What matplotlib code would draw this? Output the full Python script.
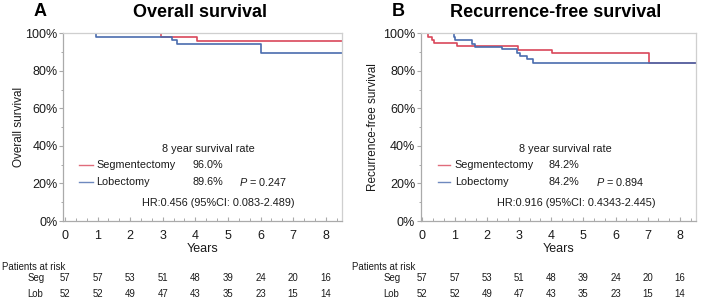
import matplotlib
matplotlib.use('Agg')
import matplotlib.pyplot as plt
import matplotlib.transforms as mtrans
from matplotlib.ticker import MultipleLocator, FuncFormatter

plt.rcParams['font.family'] = ['Liberation Sans', 'DejaVu Sans']
plt.rcParams['mathtext.fontset'] = 'custom'
plt.rcParams['mathtext.it'] = 'Liberation Sans:italic'
plt.rcParams['mathtext.rm'] = 'Liberation Sans'

# ---------------- data ----------------
followup_end = 8.5
os_seg_t = [0, 2.94, 4.05]
os_seg_s = [100, 98.2, 96.0]
os_lob_t = [0, 0.96, 3.27, 3.43, 6.02]
os_lob_s = [100, 98.1, 96.2, 94.2, 89.6]

rfs_seg_t = [0, 0.19, 0.29, 0.36, 1.09, 2.97, 4.03, 7.04]
rfs_seg_s = [100, 98.2, 96.5, 94.7, 93.0, 91.2, 89.4, 84.2]
rfs_lob_t = [0, 0.97, 1.03, 1.53, 1.64, 2.46, 2.94, 3.02, 3.25, 3.44]
rfs_lob_s = [100, 98.1, 96.2, 94.4, 92.8, 91.5, 89.6, 88.1, 86.4, 84.2]

risk_years = [0, 1, 2, 3, 4, 5, 6, 7, 8]
seg_risk = [57, 57, 53, 51, 48, 39, 24, 20, 16]
lob_risk = [52, 52, 49, 47, 43, 35, 23, 15, 14]

group_names = ['Segmentectomy', 'Lobectomy']
group_short = ['Seg', 'Lob']
os_rates = ['96.0%', '89.6%']
rfs_rates = ['84.2%', '84.2%']
os_p = '0.247'
rfs_p = '0.894'
os_hr = 'HR:0.456 (95%CI: 0.083-2.489)'
rfs_hr = 'HR:0.916 (95%CI: 0.4343-2.445)'

RED = '#d9475a'
BLUE = '#4a6cae'
W, H = 704, 300

fig = plt.figure(figsize=(W / 100, H / 100), dpi=100)


def px_axes(l, r, t, b):
    return fig.add_axes([l / W, 1 - b / H, (r - l) / W, (b - t) / H])


def style(ax, ylabel, ylabel_x):
    ax.set_xlim(-0.05, 8.5)
    ax.set_ylim(0, 100)
    ax.xaxis.set_major_locator(MultipleLocator(1))
    ax.xaxis.set_minor_locator(MultipleLocator(1 / 3))
    ax.yaxis.set_major_locator(MultipleLocator(20))
    ax.yaxis.set_minor_locator(MultipleLocator(10))
    ax.yaxis.set_major_formatter(FuncFormatter(lambda v, p: f'{int(v)}%'))
    for s in ['left', 'bottom']:
        ax.spines[s].set_color('#aaaaaa')
        ax.spines[s].set_linewidth(0.9)
    for s in ['top', 'right']:
        ax.spines[s].set_color('#cfcfcf')
        ax.spines[s].set_linewidth(0.9)
    ax.tick_params(axis='y', which='major', direction='out', length=3, width=0.8,
                   color='#aaaaaa', labelsize=9, pad=1, labelcolor='#1a1a1a')
    ax.tick_params(axis='y', which='minor', direction='out', length=1.5, width=0.7,
                   color='#aaaaaa')
    ax.tick_params(axis='x', which='major', direction='in', length=3, width=0.8,
                   color='#aaaaaa', labelsize=9, pad=6.5, labelcolor='#1a1a1a')
    ax.tick_params(axis='x', which='minor', direction='in', length=2, width=0.7,
                   color='#aaaaaa')
    ax.set_xlabel('Years', fontsize=9, labelpad=1, color='#1a1a1a')
    ax.set_ylabel(ylabel, fontsize=8.5, color='#1a1a1a')
    ax.yaxis.set_label_coords(ylabel_x, 0.5)


def km(ax, t, s, color):
    ax.step(list(t) + [followup_end], list(s) + [s[-1]], where='post',
            color=color, lw=1.2, zorder=2)


def annot(ax, rates, p, hr, hdr_x, line_x0, line_x1, name_x, rate_x, p_x, hr_x):
    kw = dict(fontsize=7.8, color='#1a1a1a', va='center')
    ax.text(hdr_x, 38.4, '8 year survival rate', ha='center', **kw)
    ys = [29.8, 20.9]
    for i, (c, y) in enumerate(zip([RED, BLUE], ys)):
        ax.plot([line_x0, line_x1], [y, y], color=c, lw=1.0, alpha=0.8)
        ax.text(name_x, y, group_names[i], ha='left', **kw)
        ax.text(rate_x, y, rates[i], ha='left', **kw)
    ax.text(p_x, ys[1], r'$\it{P}$ = ' + p, ha='left', **kw)
    ax.text(hr_x, 9.4, hr, ha='center', **kw)


def risk_table(ax, table_left_px, name_left_px):
    tr = mtrans.blended_transform_factory(ax.transData, fig.transFigure)
    kw = dict(fontsize=6.9, color='#1a1a1a', va='center')
    fig.text(table_left_px / W, 1 - 266.7 / H, 'Patients at risk', ha='left', **kw)
    for y_px, name, vals in [(278.3, group_short[0], seg_risk), (294.3, group_short[1], lob_risk)]:
        fig.text(name_left_px / W, 1 - y_px / H, name, ha='left', **kw)
        for x, v in zip(risk_years, vals):
            ax.text(x, 1 - y_px / H, str(v), ha='center', transform=tr, clip_on=False, **kw)


# ---------------- Panel A ----------------
axA = px_axes(63.3, 342, 33.3, 221)
style(axA, 'Overall survival', -0.137)
km(axA, os_seg_t, os_seg_s, RED)
km(axA, os_lob_t, os_lob_s, BLUE)
annot(axA, os_rates, os_p, os_hr, 4.4, 0.42, 0.85, 0.96, 3.92, 5.35, 4.7)
risk_table(axA, 2.0, 27.3)
fig.text(200 / W, 1 - 12.5 / H, 'Overall survival', ha='center', va='center',
         fontsize=13, fontweight='bold')
fig.text(34 / W, 1 - 11 / H, 'A', ha='left', va='center', fontsize=13, fontweight='bold')

# ---------------- Panel B ----------------
axB = px_axes(420.7, 696, 33.3, 221)
style(axB, 'Recurrence-free survival', -0.151)
km(axB, rfs_seg_t, rfs_seg_s, RED)
km(axB, rfs_lob_t, rfs_lob_s, BLUE)
annot(axB, rfs_rates, rfs_p, rfs_hr, 4.43, 0.49, 0.87, 1.01, 3.91, 5.40, 4.77)
risk_table(axB, 352.0, 383.7)
fig.text(556 / W, 1 - 12.5 / H, 'Recurrence-free survival', ha='center', va='center',
         fontsize=13, fontweight='bold')
fig.text(392 / W, 1 - 11 / H, 'B', ha='left', va='center', fontsize=13, fontweight='bold')

fig.savefig('out.png', dpi=100)
